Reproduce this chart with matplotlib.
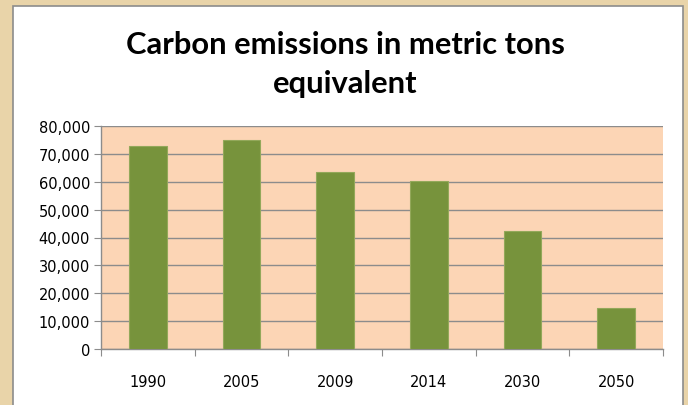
import matplotlib
matplotlib.use("Agg")
import matplotlib.pyplot as plt
from matplotlib.patches import Rectangle
from matplotlib.ticker import FuncFormatter, FixedLocator

years = ["1990", "2005", "2009", "2014", "2030", "2050"]
emissions = [72900, 74800, 63600, 60200, 42400, 14700]
y_ticks = [0, 10000, 20000, 30000, 40000, 50000, 60000, 70000, 80000]

fig = plt.figure(figsize=(6.88, 4.06), dpi=100)
fig.patch.set_facecolor("#E9D4A9")

# white chart box
box = Rectangle((13 / 688, -0.02), 670 / 688, 1.02 - 7 / 406,
                transform=fig.transFigure, facecolor="white",
                edgecolor="#8C8C8C", linewidth=1.2, zorder=-5)
fig.patches.append(box)

ax = fig.add_axes([101 / 688, 56 / 406, 562 / 688, 223 / 406])
ax.set_zorder(5)
ax.set_facecolor("#FCD5B5")

x = list(range(len(years)))
ax.bar(x, emissions, width=0.4, color="#77933C", edgecolor="#93A85A",
       linewidth=0.8, zorder=3)

ax.set_xlim(-0.5, len(years) - 0.5)
ax.set_ylim(0, 80000)
ax.set_yticks(y_ticks)
ax.yaxis.set_major_formatter(FuncFormatter(lambda v, p: "{:,.0f}".format(v)))
ax.grid(axis="y", color="#8C8C8C", linewidth=1.0, zorder=1)

# category boundary ticks, labels in between
ax.xaxis.set_major_locator(FixedLocator([i - 0.5 for i in range(len(years) + 1)]))
ax.xaxis.set_major_formatter(FuncFormatter(lambda v, p: ""))
ax.xaxis.set_minor_locator(FixedLocator(x))
ax.set_xticklabels(years, minor=True)
ax.tick_params(axis="x", which="major", length=5, color="#8C8C8C", direction="out")
ax.tick_params(axis="x", which="minor", length=0, pad=18, labelsize=10.5)
ax.tick_params(axis="y", length=5, color="#8C8C8C", labelsize=10.5, pad=3)

for s in ["top", "right"]:
    ax.spines[s].set_visible(False)
for s in ["left", "bottom"]:
    ax.spines[s].set_color("#8C8C8C")
    ax.spines[s].set_linewidth(1.0)

fig.text(345 / 688, 1 - 54 / 406, "Carbon emissions in metric tons",
         ha="center", va="baseline", fontsize=22.2, fontweight="bold",
         family="Lato")
fig.text(345 / 688, 1 - 93 / 406, "equivalent",
         ha="center", va="baseline", fontsize=22.2, fontweight="bold",
         family="Lato")

fig.savefig("out.png", dpi=100, facecolor=fig.get_facecolor())
